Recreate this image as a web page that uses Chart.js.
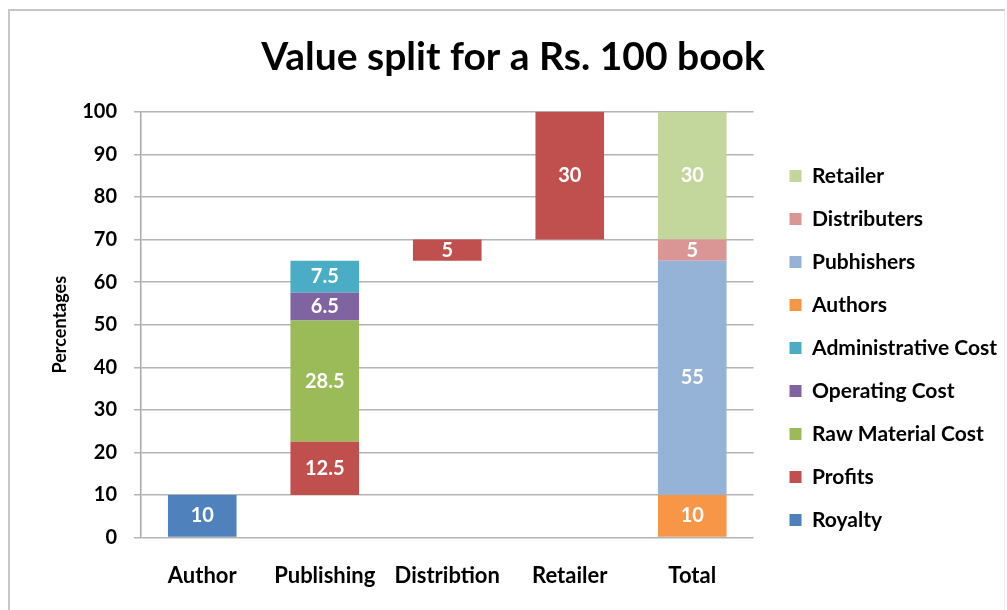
<!DOCTYPE html>
<html>
<head>
<meta charset="utf-8">
<title>Value split for a Rs. 100 book</title>
<script src="https://cdn.jsdelivr.net/npm/chart.js@4.4.1/dist/chart.umd.min.js"></script>
<style>
  html, body { margin: 0; padding: 0; background: #fff; }
  #frame {
    position: absolute; left: 8px; top: 9px; width: 994px; height: 601px;
    border-left: 2px solid #c6c6c6; border-top: 2px solid #c6c6c6; border-right: 1px solid #ececec;
  }
  #wrap { position: absolute; left: 0; top: 0; width: 1007px; height: 610px; }
</style>
</head>
<body>
<div id="frame"></div>
<div id="wrap"><canvas id="splitChart"></canvas></div>
<script>
// Categories along the x axis
const stages = ["Author", "Publishing", "Distribtion", "Retailer", "Total"];

// Invisible offset that lifts each floating block (waterfall)
const baseOffset = [0, 10, 65, 70, 0];

// Segment values per series (null = not present in that column)
const royalty      = [10, null, null, null, null];
const profits      = [null, 12.5, 5, 30, null];
const rawMaterial  = [null, 28.5, null, null, null];
const operating    = [null, 6.5, null, null, null];
const admin        = [null, 7.5, null, null, null];
const authors      = [null, null, null, null, 10];
const publishers   = [null, null, null, null, 55];
const distributers = [null, null, null, null, 5];
const retailer     = [null, null, null, null, 30];

const yTicks = [0, 10, 20, 30, 40, 50, 60, 70, 80, 90, 100];

const FONT = "Lato, 'Open Sans', sans-serif";

// --- Segment labels (white numbers in the middle of each block) ---
const segmentLabels = {
  id: "segmentLabels",
  afterDatasetsDraw(chart) {
    const ctx = chart.ctx;
    ctx.save();
    ctx.fillStyle = "#ffffff";
    ctx.font = "bold 20px " + FONT;
    ctx.textAlign = "center";
    ctx.textBaseline = "middle";
    chart.data.datasets.forEach((ds, i) => {
      if (ds.isBase) return;
      const meta = chart.getDatasetMeta(i);
      meta.data.forEach((bar, j) => {
        const v = ds.data[j];
        if (v == null) return;
        ctx.fillText(String(v), bar.x, (bar.y + bar.base) / 2);
      });
    });
    ctx.restore();
  }
};

// --- Nudge legend (gap from plot, lower) and title (a bit left) ---
const LEGEND_DX = 14;
const LEGEND_DY = 40;
const TITLE_DX = -15;
function shiftDraw(box, dx, dy) {
  const draw = box.draw;
  box.draw = function () {
    this.ctx.save();
    this.ctx.translate(dx, dy);
    draw.apply(this, arguments);
    this.ctx.restore();
  };
}
const boxShift = {
  id: "boxShift",
  beforeInit(chart) {
    const legend = chart.legend;
    const fit = legend.fit;
    legend.fit = function () { fit.call(this); this.width += LEGEND_DX; };
    shiftDraw(legend, LEGEND_DX, LEGEND_DY);
    shiftDraw(chart.titleBlock, TITLE_DX, 0);
  }
};

function series(label, data, color) {
  return {
    label: label,
    data: data,
    backgroundColor: color,
    borderWidth: 0,
    categoryPercentage: 1,
    barPercentage: 0.56
  };
}

const ctx = document.getElementById("splitChart").getContext("2d");

window.splitChart = new Chart(ctx, {
  type: "bar",
  data: {
    labels: stages,
    datasets: [
      Object.assign(series("base", baseOffset, "rgba(0,0,0,0)"), { isBase: true }),
      series("Royalty", royalty, "#4f81bd"),
      series("Profits", profits, "#c0504d"),
      series("Raw Material Cost", rawMaterial, "#9bbb59"),
      series("Operating Cost", operating, "#8064a2"),
      series("Administrative Cost", admin, "#4bacc6"),
      series("Authors", authors, "#f79646"),
      series("Pubhishers", publishers, "#95b3d7"),
      series("Distributers", distributers, "#d99694"),
      series("Retailer", retailer, "#c3d69b")
    ]
  },
  options: {
    responsive: true,
    maintainAspectRatio: false,
    animation: false,
    layout: { padding: { left: 49, right: 0, top: 10, bottom: 4 } },
    plugins: {
      tooltip: { enabled: false },
      title: {
        display: true,
        text: "Value split for a Rs. 100 book",
        color: "#000",
        font: { family: FONT, size: 39, weight: "bold" },
        padding: { top: 24, bottom: 31 }
      },
      legend: {
        position: "right",
        reverse: true,
        labels: {
          filter: (item, data) => !data.datasets[item.datasetIndex].isBase,
          color: "#000",
          font: { family: FONT, size: 21, weight: "bold" },
          boxWidth: 12,
          boxHeight: 12,
          padding: 22
        }
      }
    },
    scales: {
      x: {
        stacked: true,
        grid: { display: false },
        border: { display: false },
        ticks: {
          color: "#000",
          font: { family: FONT, size: 22, weight: "bold" },
          padding: 17
        }
      },
      y: {
        stacked: true,
        min: 0,
        max: 100,
        afterBuildTicks: (axis) => { axis.ticks = yTicks.map(v => ({ value: v })); },
        afterFit: (axis) => { axis.width = 92; },
        grid: { color: "#b4b4b4", lineWidth: 1.5, tickLength: 7 },
        border: { display: true, color: "#a8a8a8", width: 1.5 },
        ticks: {
          color: "#000",
          font: { family: FONT, size: 20, weight: "bold" },
          padding: 17
        },
        title: {
          display: true,
          text: "Percentages",
          color: "#000",
          font: { family: FONT, size: 18, weight: "bold" },
          padding: { top: 0, bottom: 10 }
        }
      }
    }
  },
  plugins: [segmentLabels, boxShift]
});
</script>
</body>
</html>
